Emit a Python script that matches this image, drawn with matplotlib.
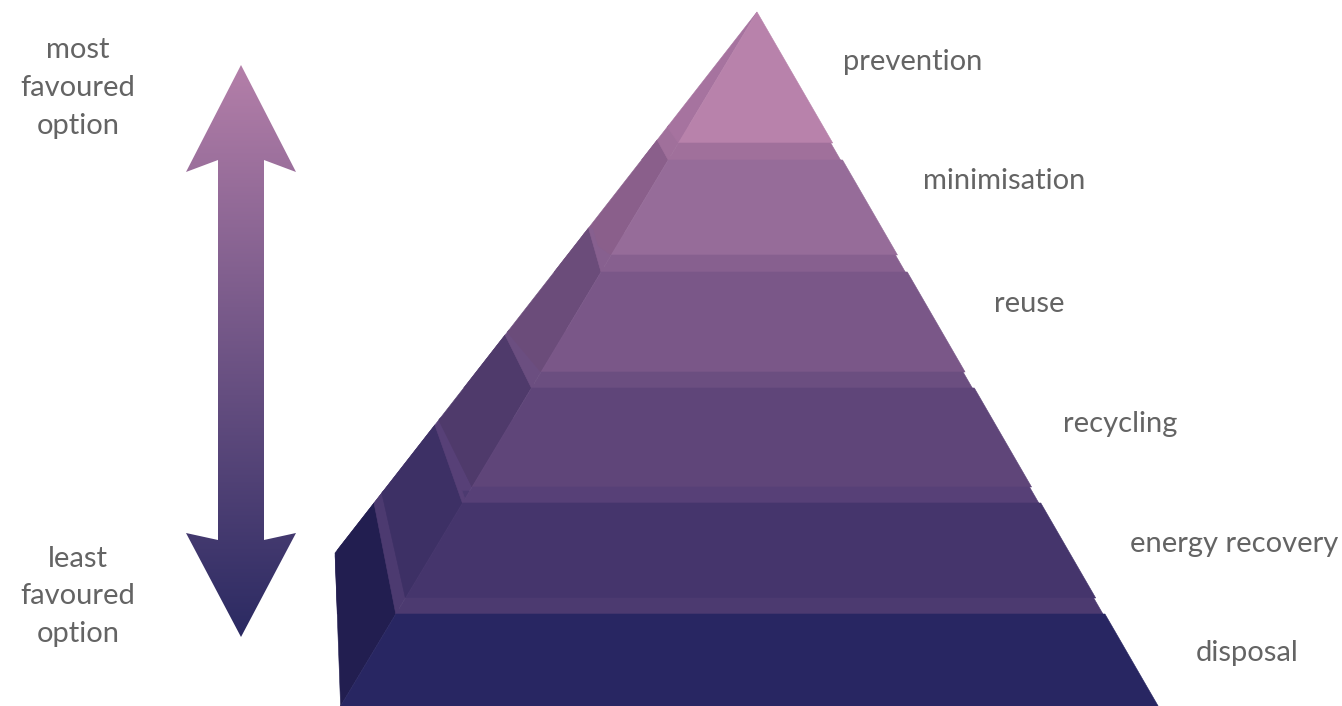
import numpy as np
import matplotlib
matplotlib.use("Agg")
import matplotlib.pyplot as plt
from matplotlib.patches import Polygon
from matplotlib.colors import to_rgb

# ---- content ----
tiers = ["prevention", "minimisation", "reuse", "recycling", "energy recovery", "disposal"]
front_colors = ["#b882ab", "#966c99", "#7a5788", "#5f4579", "#45356c", "#282662"]
side_colors = ["#a6739f", "#8a5f8b", "#6b4c7a", "#4f3a6b", "#3d3065", "#221e50"]
ledge_colors = ["#a0709b", "#87608f", "#6b4e80", "#574077", "#4c3a70"]
top_text = ["most", "favoured", "option"]
bottom_text = ["least", "favoured", "option"]
arrow_colors = ["#b47fa9", "#2b2a62"]

# ---- geometry (pixel space, y down) ----
W, H = 1342, 706
apex_x, apex_y = 757, 12
kL, kR, kS = 0.60, 0.578, 0.78
corner_y, base_left_x = 553, 341
front_top = [12, 160, 272, 388, 503, 614]
front_bot = [143, 255, 372, 487, 598, 706]
back_top = [12, 140, 228, 335, 425, 503]
back_bot = [127, 235, 332, 420, 493, 553]
label_y = [62, 181, 304, 424, 544, 653]
label_dx = [57, 68, 68, 68, 66, 68]

def L(y): return apex_x - kL * (y - apex_y)
def R(y): return apex_x + kR * (y - apex_y)
def S(y):
    if y <= corner_y:
        return apex_x - kS * (y - apex_y)
    xc = apex_x - kS * (corner_y - apex_y)
    return xc + (base_left_x - xc) * (y - corner_y) / (H - corner_y)

fig = plt.figure(figsize=(W / 100, H / 100), dpi=100)
ax = fig.add_axes([0, 0, 1, 1])
ax.set_xlim(0, W)
ax.set_ylim(H, 0)
ax.axis("off")

def poly(pts, color, z=1):
    ax.add_patch(Polygon(pts, closed=True, facecolor=color, edgecolor=color,
                         linewidth=0.4, zorder=z, joinstyle="miter"))

# base fill of the left notches (ledge tops)
for i in range(5):
    y0, y1 = back_bot[i] - 2, front_top[i + 1]
    ys = np.linspace(y0, y1, 20)
    pts = [(S(y), y) for y in ys] + [(L(y), y) for y in ys[::-1]]
    poly(pts, ledge_colors[i], 1)

# side faces
for i in range(6):
    bt, bb = back_top[i], back_bot[i]
    ft, fb = front_top[i], front_bot[i]
    pts = [(S(bt), bt), (L(ft), ft), (L(fb), fb), (S(bb), bb)]
    poly(pts, side_colors[i], 2)

# thin bevel stripes along the back edges
for i in range(1, 6):
    bt = back_top[i]
    ft = front_top[i]
    x0, x1 = S(bt), L(ft)
    poly([(x0, bt), (x1, ft), (x1 + 4, ft), (x0 + 4, bt)],
         ledge_colors[i - 1], 3)

# front faces and ledge bands
for i in range(6):
    t, b = front_top[i], front_bot[i]
    poly([(L(t), t), (R(t), t), (R(b), b), (L(b), b)], front_colors[i], 4)
    if i < 5:
        t2 = front_top[i + 1]
        poly([(L(b), b), (R(b) - 2, b), (R(t2) - 2, t2), (L(t2), t2)], ledge_colors[i], 4)

# labels
txt = dict(fontsize=21, family="Lato", color="#646464", va="center")
for i, name in enumerate(tiers):
    ax.text(R(label_y[i]) + label_dx[i], label_y[i], name, ha="left", zorder=6, **txt)

for j, s in enumerate(top_text):
    ax.text(78, 50 + 38 * j, s, ha="center", **txt)
for j, s in enumerate(bottom_text):
    ax.text(78, 559 + 37.5 * j, s, ha="center", **txt)

# double arrow with vertical gradient
cx, tip_top, tip_bot = 241, 65, 637
half_head, half_shaft = 55, 23
wing_top, join_top = 172, 160
wing_bot, join_bot = 533, 540
arrow_pts = [(cx, tip_top), (cx + half_head, wing_top), (cx + half_shaft, join_top),
             (cx + half_shaft, join_bot), (cx + half_head, wing_bot), (cx, tip_bot),
             (cx - half_head, wing_bot), (cx - half_shaft, join_bot),
             (cx - half_shaft, join_top), (cx - half_head, wing_top)]
clip = Polygon(arrow_pts, closed=True, facecolor="none", edgecolor="none")
ax.add_patch(clip)
c0, c1 = np.array(to_rgb(arrow_colors[0])), np.array(to_rgb(arrow_colors[1]))
tt = np.linspace(0, 1, 256)[:, None]
grad = (c0 * (1 - tt) + c1 * tt)[:, None, :]
im = ax.imshow(grad, extent=(cx - half_head, cx + half_head, tip_bot, tip_top),
               aspect="auto", zorder=5, interpolation="bilinear")
im.set_clip_path(clip)

ax.set_xlim(0, W)
ax.set_ylim(H, 0)
fig.savefig("out.png", dpi=100)
